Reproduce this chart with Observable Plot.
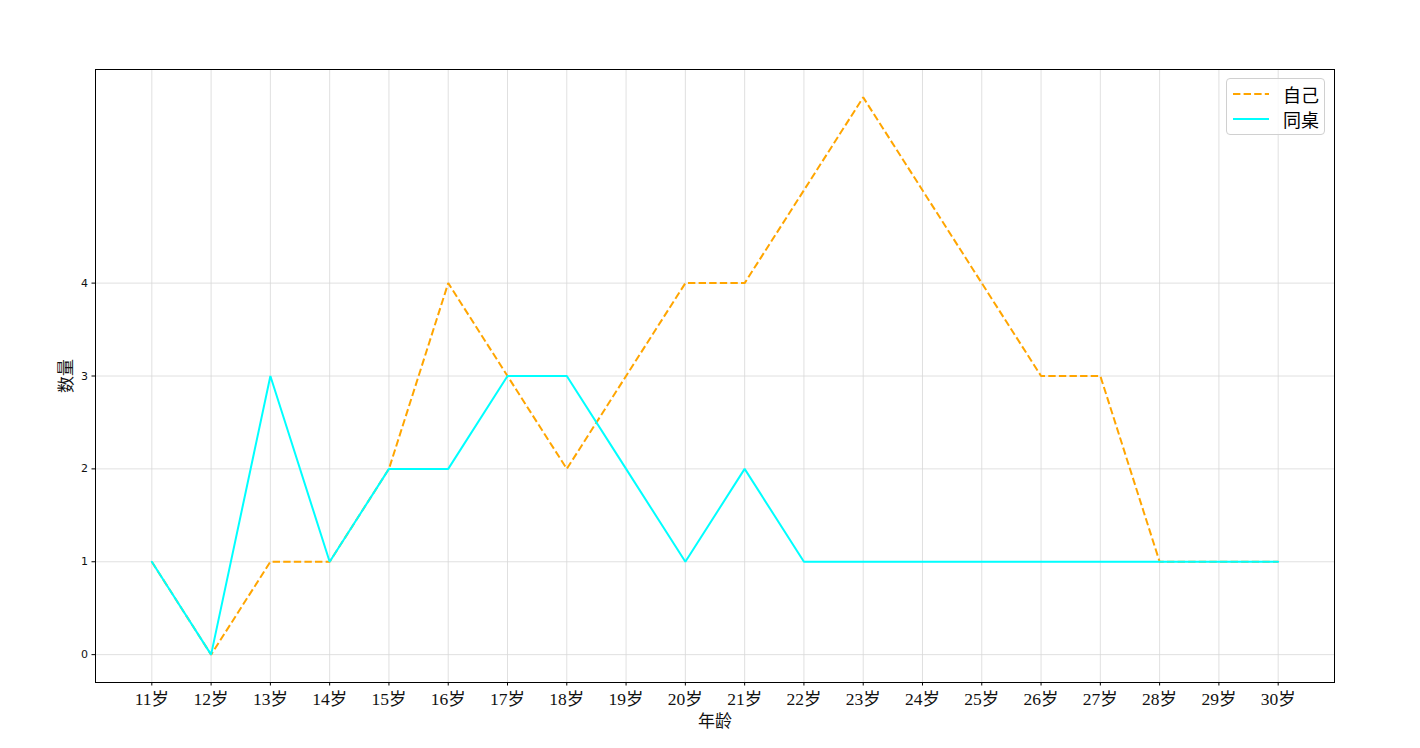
<!DOCTYPE html>
<html><head><meta charset="utf-8">
<script src="https://cdn.jsdelivr.net/npm/d3@7"></script>
<script src="https://cdn.jsdelivr.net/npm/@observablehq/plot@0.6"></script>
<style>
body{margin:0;background:#fff;}
#wrap{position:relative;width:1420px;height:748px;}
#legend{position:absolute;left:1226px;top:78px;width:97px;height:55px;border:1px solid #d0d0d0;border-radius:4px;background:rgba(255,255,255,0.8);font-family:"Noto Sans CJK SC",sans-serif;font-size:18px;}
.row{position:absolute;left:0;height:24px;display:flex;align-items:center;}
.row svg{margin-left:6px;}
.row span{margin-left:14px;line-height:24px;}
</style></head>
<body><div id="wrap"><div id="chart"></div>
<div id="legend">
<div class="row" style="top:3px"><svg width="36" height="6"><line x1="0" y1="3" x2="36" y2="3" stroke="orange" stroke-width="2" stroke-dasharray="7.4,3.2"/></svg><span>自己</span></div>
<div class="row" style="top:28px"><svg width="36" height="6"><line x1="0" y1="3" x2="36" y2="3" stroke="cyan" stroke-width="2"/></svg><span>同桌</span></div>
</div></div>
<script>
const ages = ["11岁","12岁","13岁","14岁","15岁","16岁","17岁","18岁","19岁","20岁","21岁","22岁","23岁","24岁","25岁","26岁","27岁","28岁","29岁","30岁"];
const self = [1,0,1,1,2,4,3,2,3,4,4,5,6,5,4,3,3,1,1,1];
const deskmate = [1,0,3,1,2,2,3,3,2,1,2,1,1,1,1,1,1,1,1,1];
const yTicks = [0,1,2,3,4];

const idx = ages.map((_, i) => i);
const selfData = idx.map(i => ({i, v: self[i]}));
const deskData = idx.map(i => ({i, v: deskmate[i]}));

const serifCJK = "'Liberation Serif','Noto Sans CJK SC',serif";
const chart = Plot.plot({
  width: 1420, height: 748,
  marginLeft: 95, marginRight: 86, marginTop: 69, marginBottom: 66,
  style: {background: "white", overflow: "visible"},
  x: {type: "linear", domain: [-0.95, 19.95], label: null},
  y: {domain: [-0.3, 6.3], label: null},
  marks: [
    Plot.gridX(idx, {stroke: "#d8d8d8", strokeOpacity: 1, strokeWidth: 0.8}),
    Plot.gridY(yTicks, {stroke: "#d8d8d8", strokeOpacity: 1, strokeWidth: 0.8}),
    Plot.axisX(idx, {tickFormat: i => ages[i], tickSize: 3.5, tickPadding: 7, fontSize: 17.5, fontFamily: serifCJK, fill: "#111", label: null}),
    Plot.axisY(yTicks, {tickFormat: d => String(d), tickSize: 3.5, tickPadding: 4, fontSize: 11, fontFamily: "'DejaVu Sans',sans-serif", fill: "#111", label: null}),
    Plot.lineY(selfData, {x: "i", y: "v", stroke: "orange", strokeWidth: 2, strokeDasharray: "7.4,3.2", strokeLinejoin: "miter", strokeLinecap: "butt"}),
    Plot.lineY(deskData, {x: "i", y: "v", stroke: "cyan", strokeWidth: 2, strokeLinejoin: "miter"}),
    Plot.frame({stroke: "black", strokeWidth: 1}),
    Plot.text(["年龄"], {frameAnchor: "bottom", dy: 39, lineAnchor: "middle", fontSize: 17, fontFamily: serifCJK, fill: "#111"}),
    Plot.text(["数量"], {frameAnchor: "left", dx: -29, rotate: -90, textAnchor: "middle", lineAnchor: "middle", fontSize: 17, fontFamily: serifCJK, fill: "#111"})
  ]
});
document.getElementById("chart").appendChild(chart);
</script></body></html>
